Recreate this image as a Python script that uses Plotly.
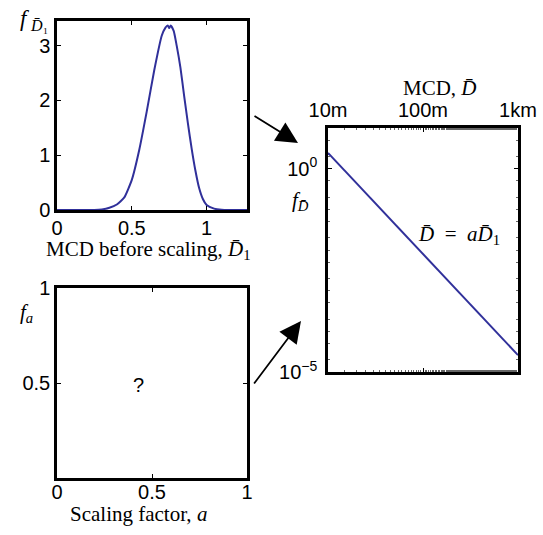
import plotly.graph_objects as go

W, H = 543, 535

# Density of the MCD before scaling, D1
d1_x = [0, 0.25, 0.30, 0.35, 0.40, 0.45, 0.50, 0.55, 0.60, 0.65, 0.70, 0.725, 0.74,
        0.75, 0.76, 0.78, 0.80, 0.825, 0.85, 0.875, 0.90, 0.925, 0.95, 0.975, 1.0,
        1.05, 1.10, 1.15, 1.27]
d1_f = [0, 0, 0.01, 0.04, 0.10, 0.23, 0.55, 1.1, 1.8, 2.55, 3.18, 3.33, 3.37,
        3.32, 3.37, 3.27, 3.0, 2.6, 2.08, 1.58, 1.12, 0.72, 0.40, 0.20, 0.09,
        0.025, 0.005, 0, 0]

# Density of the scaled MCD (log-log)
mcd_m = [10, 1000]
mcd_f = [2.44, 2.6e-5]

d1_ticks = [0, 0.5, 1]
f1_ticks = [0, 1, 2, 3]
a_ticks = [0, 0.5, 1]
fa_ticks = [0.5, 1]
mcd_ticks = [10, 100, 1000]
mcd_ticktext = ["10m", "100m", "1km"]
fd_ticks = [1, 1e-5]
fd_ticktext = ["10<sup>0</sup>", "10<sup>\u22125</sup>"]

LINE = "#30309a"
SANS = "Liberation Sans, Arial, sans-serif"
SERIF = "Liberation Serif, Times New Roman, serif"


def px(x):
    return x / W


def py(y):
    return 1 - y / H


frame = dict(showline=True, linecolor="black", linewidth=2.5, mirror="ticks",
             ticks="inside", ticklen=4, tickwidth=1, tickcolor="black",
             showgrid=False, zeroline=False, automargin=False,
             tickfont=dict(family=SANS, size=20, color="black"))

fig = go.Figure()
fig.add_trace(go.Scatter(x=d1_x, y=d1_f, mode="lines",
                         line=dict(color=LINE, width=2, shape="spline", smoothing=0.5),
                         xaxis="x", yaxis="y", showlegend=False, hoverinfo="skip"))
fig.add_trace(go.Scatter(x=[], y=[], mode="lines", xaxis="x2", yaxis="y2", showlegend=False))
fig.add_trace(go.Scatter(x=mcd_m, y=mcd_f, mode="lines", line=dict(color=LINE, width=2),
                         xaxis="x3", yaxis="y3", showlegend=False, hoverinfo="skip"))

fig.update_layout(
    width=W, height=H, margin=dict(l=0, r=0, t=0, b=0),
    paper_bgcolor="white", plot_bgcolor="white",
    xaxis=dict(frame, domain=[px(57), px(247)], range=[0, 1.27], tickvals=d1_ticks,
               ticktext=["0", "0.5", "1"], anchor="y", ticklabelstandoff=-2),
    yaxis=dict(frame, domain=[py(210), py(21)], range=[0, 3.45], tickvals=f1_ticks, anchor="x"),
    xaxis2=dict(frame, domain=[px(57), px(247)], range=[0, 1], tickvals=a_ticks,
                ticktext=["0", "0.5", "1"], anchor="y2", ticklabelstandoff=-6),
    yaxis2=dict(frame, domain=[py(478), py(288)], range=[0, 1], tickvals=fa_ticks,
                ticktext=["0.5", "1"], anchor="x2"),
    xaxis3=dict(frame, domain=[px(328), px(518)], type="log", range=[1, 3], side="top",
                tickvals=mcd_ticks, ticktext=mcd_ticktext, anchor="y3",
                minor=dict(ticks="inside", ticklen=2, tickcolor="#666")),
    yaxis3=dict(frame, domain=[py(372), py(128)], type="log", range=[-5, 1], tickvals=fd_ticks,
                ticktext=fd_ticktext, anchor="x3", ticklabelstandoff=4,
                minor=dict(ticks="inside", ticklen=2, tickcolor="#666")),
)

ann = []


def label(x, y, text, size=20, family=SERIF, xanchor="center"):
    ann.append(dict(x=px(x), y=py(y), xref="paper", yref="paper", text=text, showarrow=False,
                    xanchor=xanchor, yanchor="middle", font=dict(family=family, size=size, color="black")))


label(148, 250, "MCD before scaling, <i>D\u0304</i><sub>1</sub>", size=21)
label(138, 514, "Scaling factor, <i>a</i>", size=21)
label(440, 88, "MCD, <i>D\u0304</i>", size=21)
label(34, 20, "<i>f</i>\u2009<sub><i>D\u0304</i>\u2081</sub>", size=23)
label(26, 313, "<i>f</i><sub><i>a</i></sub>", size=21)
label(300, 201, "<i>f</i><sub><i>D\u0304</i></sub>", size=21)
label(459, 235, "<i>D\u0304</i>\u2002=\u2002<i>aD\u0304</i><sub>1</sub>", size=21)
label(138, 385, "?", family=SANS)

# arrows linking the panels
for hx, hy, tx, ty in [(298, 143, 253, 115), (301, 321, 253, 385)]:
    ann.append(dict(x=px(hx), y=py(hy), xref="paper", yref="paper", ax=tx - hx, ay=ty - hy,
                    axref="pixel", ayref="pixel", showarrow=True, arrowhead=2, arrowsize=2.4,
                    arrowwidth=1.8, arrowcolor="black", text=""))

fig.update_layout(annotations=ann)
fig.write_html("out.html")
